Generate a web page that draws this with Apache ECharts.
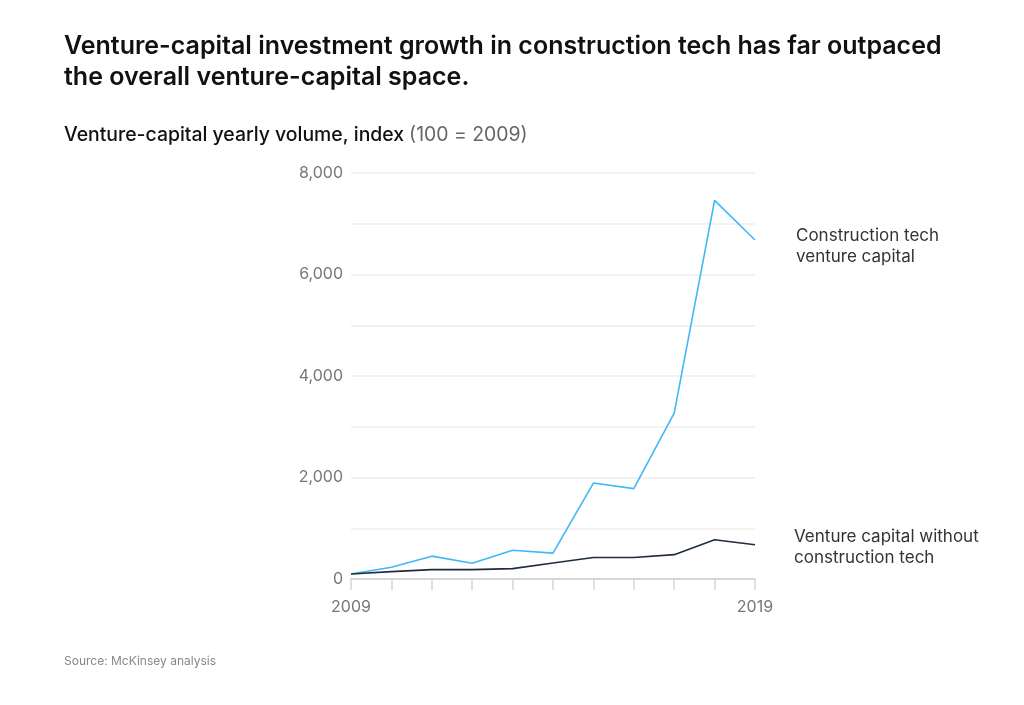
<!DOCTYPE html>
<html>
<head>
<meta charset="utf-8">
<script src="https://cdn.jsdelivr.net/npm/echarts@6/dist/echarts.min.js"></script>
<style>
  html, body { margin: 0; padding: 0; background: #fff; }
  #chart { width: 1024px; height: 705px; }
</style>
</head>
<body>
<div id="chart"></div>
<script>
const years = ['2009', '2010', '2011', '2012', '2013', '2014', '2015', '2016', '2017', '2018', '2019'];
const constructionTech = [100, 230, 450, 310, 565, 510, 1890, 1780, 3270, 7460, 6680];
const withoutConstruction = [100, 145, 185, 185, 205, 315, 425, 425, 480, 775, 675];
const shownYears = ['2009', '2019'];

const FONT = 'Inter, "Noto Sans", sans-serif';

const getOption = () => {
  return {
    backgroundColor: '#fff',
    animation: false,
    title: [
      {
        text: 'Venture-capital investment growth in construction tech has far outpaced\nthe overall venture-capital space.',
        left: 59,
        top: 26,
        textStyle: {
          fontFamily: FONT,
          fontSize: 25,
          fontWeight: 600,
          lineHeight: 31,
          color: '#111'
        }
      },
      {
        text: '{b|Venture-capital yearly volume, index} {g|(100 = 2009)}',
        left: 59,
        top: 121,
        textStyle: {
          rich: {
            b: { fontFamily: FONT, fontSize: 19.4, fontWeight: 500, color: '#111' },
            g: { fontFamily: FONT, fontSize: 19.4, fontWeight: 400, color: '#666' }
          }
        }
      },
      {
        text: 'Source: McKinsey analysis',
        left: 59,
        top: 650,
        textStyle: { fontFamily: FONT, fontSize: 12, fontWeight: 400, color: '#888' }
      }
    ],
    grid: {
      left: 351,
      right: 269,
      top: 173,
      bottom: 126
    },
    xAxis: {
      type: 'category',
      data: years,
      boundaryGap: false,
      axisLine: { lineStyle: { color: '#d6d6d6', width: 2 } },
      axisTick: { length: 11, lineStyle: { color: '#d6d6d6', width: 1.5 } },
      axisLabel: {
        margin: 20,
        interval: 0,
        fontFamily: FONT,
        fontSize: 16,
        color: '#777',
        formatter: (v) => (shownYears.includes(v) ? v : '')
      }
    },
    yAxis: {
      type: 'value',
      min: 0,
      max: 8000,
      interval: 1000,
      axisLine: { show: false },
      axisTick: { show: false },
      splitLine: { lineStyle: { color: '#eeeeee', width: 1.5 } },
      axisLabel: {
        margin: 8,
        fontFamily: FONT,
        fontSize: 16,
        color: '#777',
        formatter: (v) => (v % 2000 === 0 ? v.toLocaleString('en-US') : '')
      }
    },
    series: [
      {
        name: 'Construction tech venture capital',
        type: 'line',
        data: constructionTech,
        symbol: 'none',
        lineStyle: { color: '#3fb8f9', width: 1.6 },
        z: 3
      },
      {
        name: 'Venture capital without construction tech',
        type: 'line',
        data: withoutConstruction,
        symbol: 'none',
        lineStyle: { color: '#1f2d3d', width: 1.6 },
        z: 4
      }
    ],
    graphic: [
      {
        type: 'text',
        left: 796,
        top: 225,
        style: {
          text: 'Construction tech\nventure capital',
          font: '400 17px ' + FONT,
          lineHeight: 21,
          fill: '#333'
        }
      },
      {
        type: 'text',
        left: 794,
        top: 526,
        style: {
          text: 'Venture capital without\nconstruction tech',
          font: '400 17px ' + FONT,
          lineHeight: 21,
          fill: '#333'
        }
      }
    ]
  };
};

const initCharts = () => {
  const chart = echarts.init(document.getElementById('chart'));
  chart.setOption(getOption());
};

window.addEventListener('load', () => {
  initCharts();
});
</script>
</body>
</html>
